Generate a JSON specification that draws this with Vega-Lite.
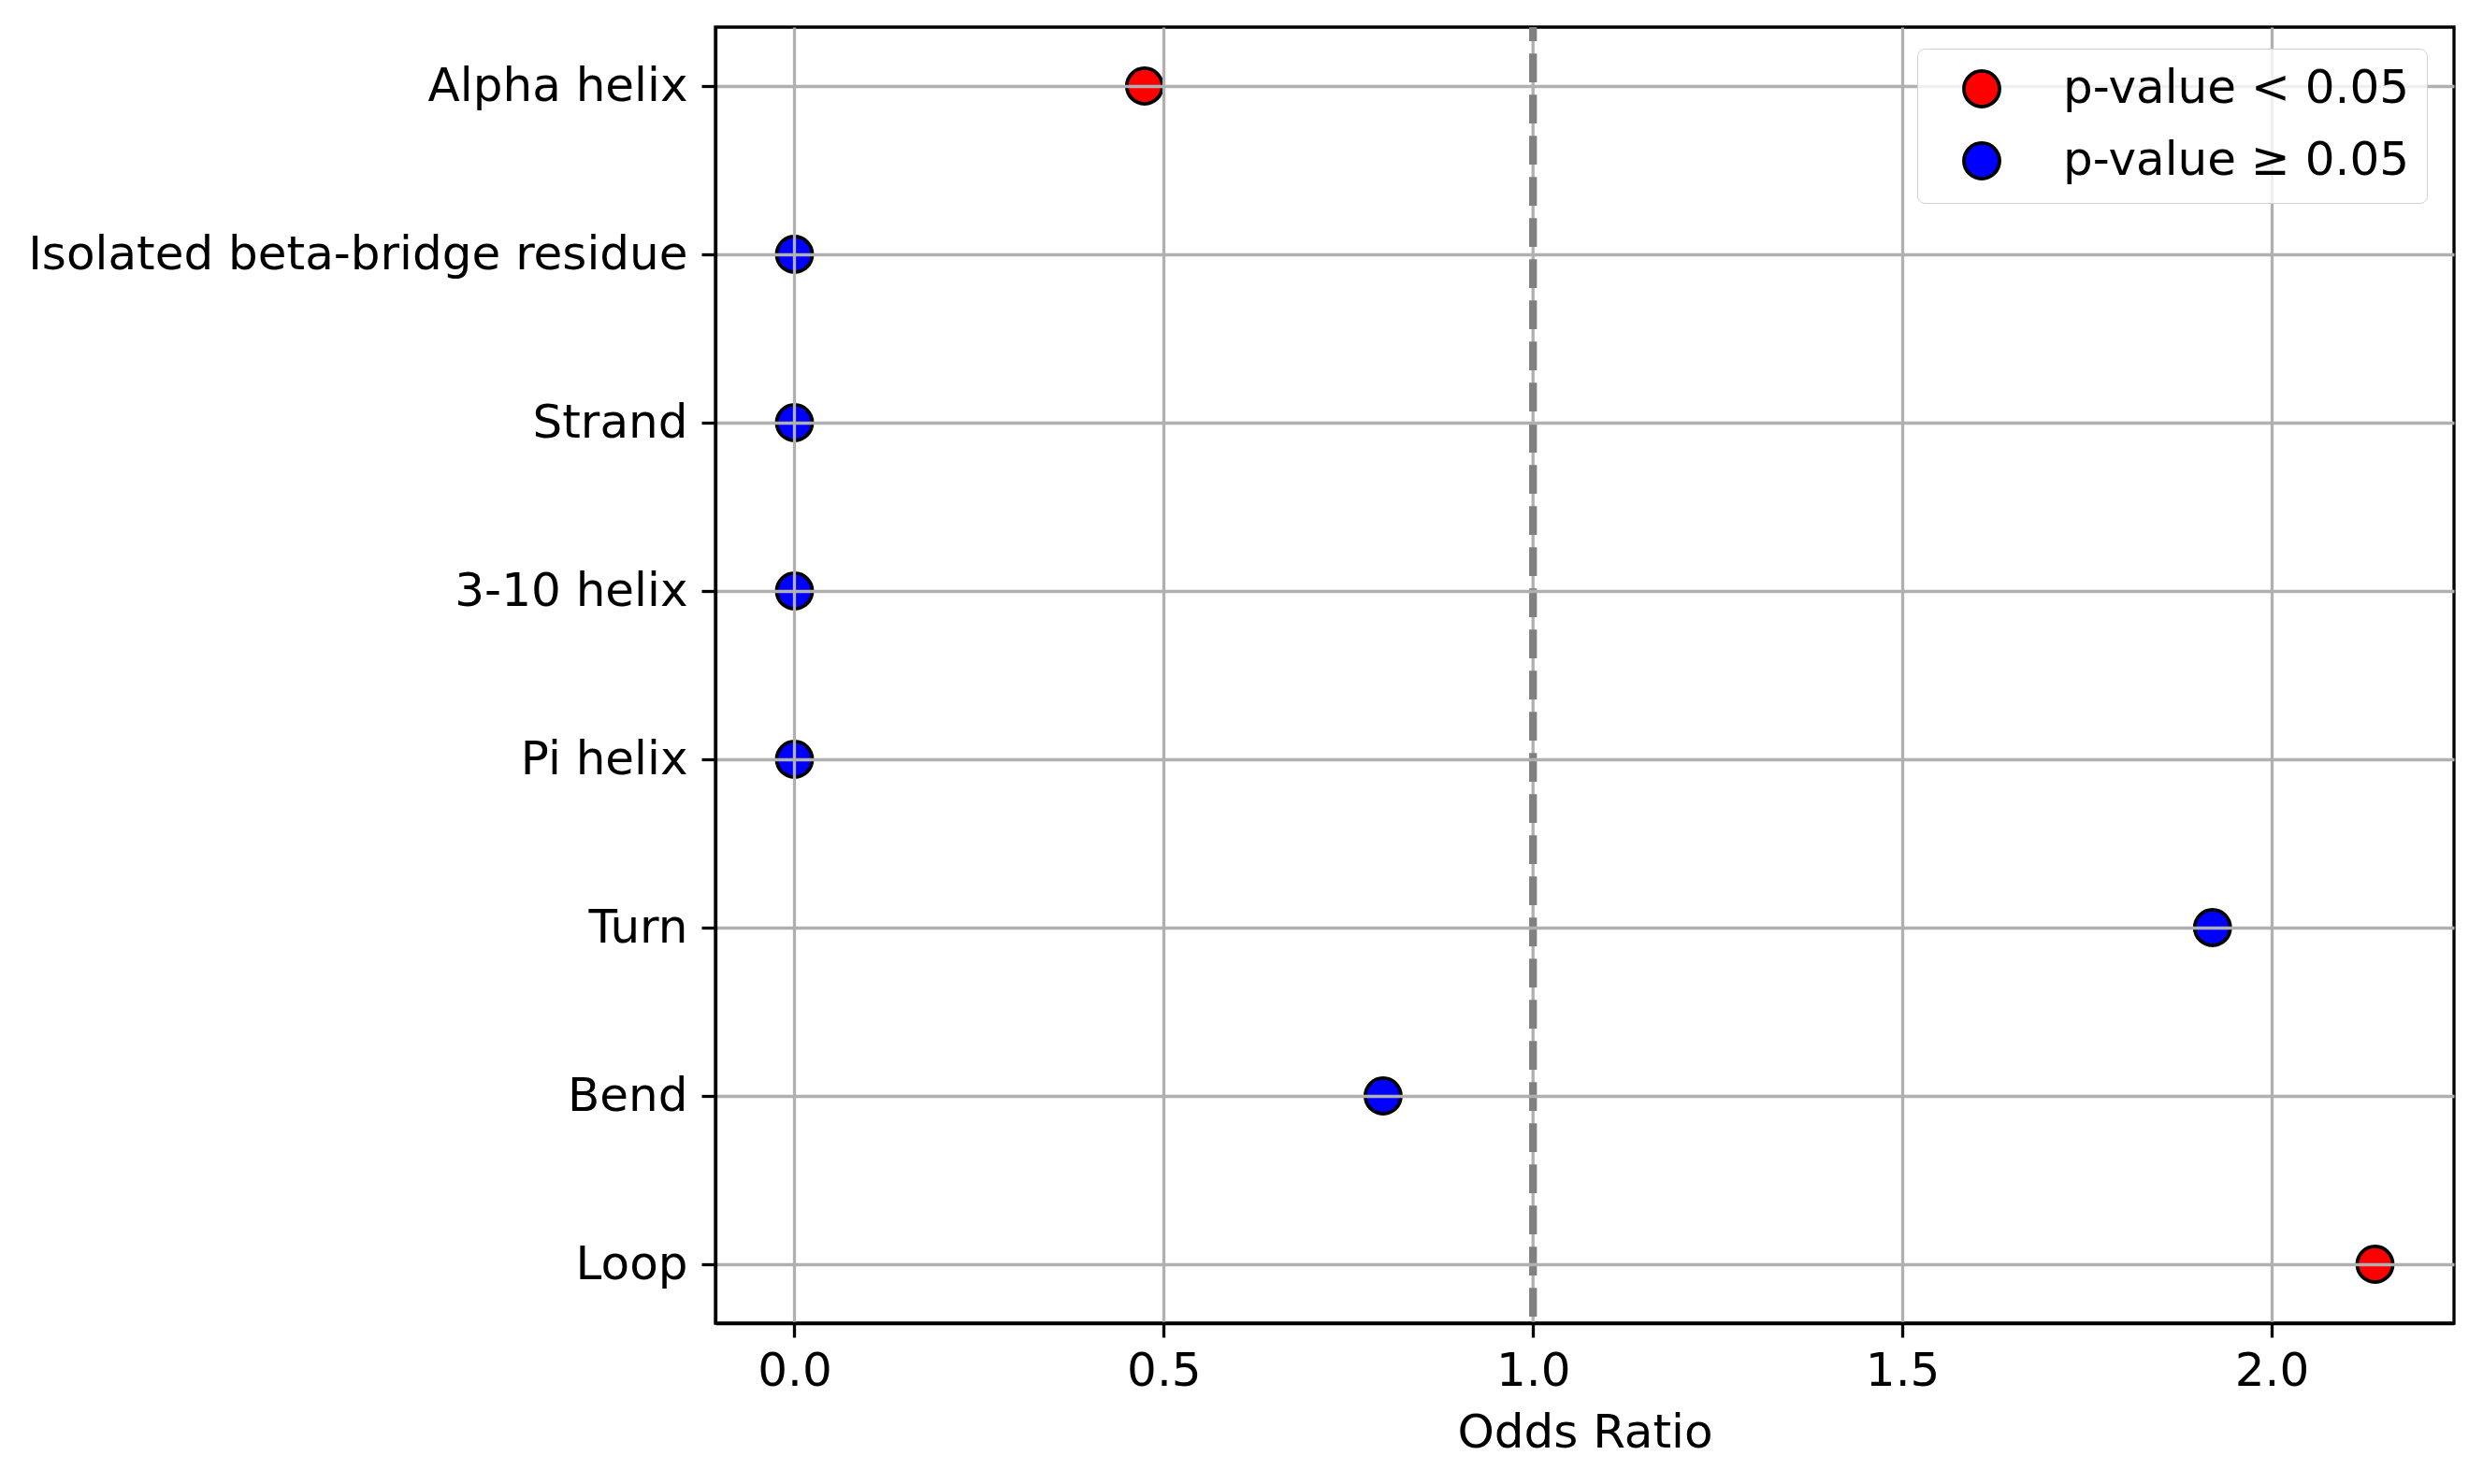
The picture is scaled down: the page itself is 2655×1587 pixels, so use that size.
{
  "$schema": "https://vega.github.io/schema/vega-lite/v6.json",
  "description": "Odds ratio by secondary structure",
  "width": 1859,
  "height": 1386,
  "autosize": {"type": "none"},
  "padding": {"left": 765, "top": 29, "right": 31, "bottom": 172},
  "background": "white",
  "config": {
    "font": "DejaVu Sans",
    "view": {"stroke": "black", "strokeWidth": 3.3},
    "axis": {
      "labelFont": "DejaVu Sans",
      "labelFontSize": 50,
      "labelColor": "black",
      "tickColor": "black",
      "tickSize": 15,
      "tickWidth": 3.3,
      "domainColor": "black",
      "domainWidth": 3.3,
      "grid": true,
      "gridColor": "#b0b0b0",
      "gridWidth": 3.3,
      "titleFont": "DejaVu Sans",
      "titleFontSize": 50,
      "titleFontWeight": "normal",
      "titleColor": "black"
    },
    "legend": {
      "labelFont": "DejaVu Sans",
      "labelFontSize": 50,
      "labelColor": "black",
      "labelLimit": 0
    }
  },
  "datasets": {
    "odds": [
      {"structure": "Alpha helix", "odds_ratio": 0.474, "significance": "p-value < 0.05"},
      {"structure": "Isolated beta-bridge residue", "odds_ratio": 0, "significance": "p-value ≥ 0.05"},
      {"structure": "Strand", "odds_ratio": 0, "significance": "p-value ≥ 0.05"},
      {"structure": "3-10 helix", "odds_ratio": 0, "significance": "p-value ≥ 0.05"},
      {"structure": "Pi helix", "odds_ratio": 0, "significance": "p-value ≥ 0.05"},
      {"structure": "Turn", "odds_ratio": 1.92, "significance": "p-value ≥ 0.05"},
      {"structure": "Bend", "odds_ratio": 0.797, "significance": "p-value ≥ 0.05"},
      {"structure": "Loop", "odds_ratio": 2.14, "significance": "p-value < 0.05"}
    ],
    "ref": [{"x": 1}]
  },
  "layer": [
    {
      "data": {"name": "ref"},
      "mark": {"type": "rule", "color": "#b0b0b0", "strokeWidth": 3.3},
      "encoding": {
        "x": {"field": "x", "type": "quantitative", "scale": {"domain": [-0.107, 2.247], "nice": false, "zero": false}}
      }
    },
    {
      "data": {"name": "ref"},
      "mark": {"type": "rule", "color": "#808080", "strokeWidth": 8.3, "strokeDash": [30.7, 13.3], "strokeDashOffset": 15.7},
      "encoding": {
        "x": {"field": "x", "type": "quantitative"}
      }
    },
    {
      "data": {"name": "odds"},
      "mark": {"type": "point", "shape": "circle", "filled": true, "size": 1450, "stroke": "black", "strokeWidth": 3.8, "opacity": 1},
      "encoding": {
        "x": {
          "field": "odds_ratio",
          "type": "quantitative",
          "title": "Odds Ratio",
          "axis": {
            "values": [0, 0.5, 1, 1.5, 2],
            "format": ".1f",
            "labelPadding": 11,
            "titlePadding": 16,
            "zindex": 1,
            "gridOpacity": {"condition": {"test": "datum.value === 1", "value": 0}, "value": 1}
          }
        },
        "y": {
          "field": "structure",
          "type": "nominal",
          "sort": ["Alpha helix", "Isolated beta-bridge residue", "Strand", "3-10 helix", "Pi helix", "Turn", "Bend", "Loop"],
          "scale": {"padding": 0.35},
          "axis": {"title": null, "labelPadding": 15, "labelLimit": 0, "grid": true, "zindex": 1}
        },
        "fill": {
          "field": "significance",
          "type": "nominal",
          "scale": {"domain": ["p-value < 0.05", "p-value ≥ 0.05"], "range": ["red", "blue"]},
          "legend": {
            "title": null,
            "orient": "none",
            "legendX": 1285,
            "legendY": 23,
            "zindex": 2,
            "padding": 18,
            "cornerRadius": 8,
            "strokeColor": "#d0d0d0",
            "fillColor": "rgba(255,255,255,0.8)",
            "symbolType": "circle",
            "symbolSize": 1450,
            "symbolStrokeColor": "black",
            "symbolStrokeWidth": 3.8,
            "symbolOpacity": 1,
            "symbolOffset": 26,
            "labelOffset": 62,
            "labelLimit": 0,
            "rowPadding": 23
          }
        }
      }
    }
  ]
}
